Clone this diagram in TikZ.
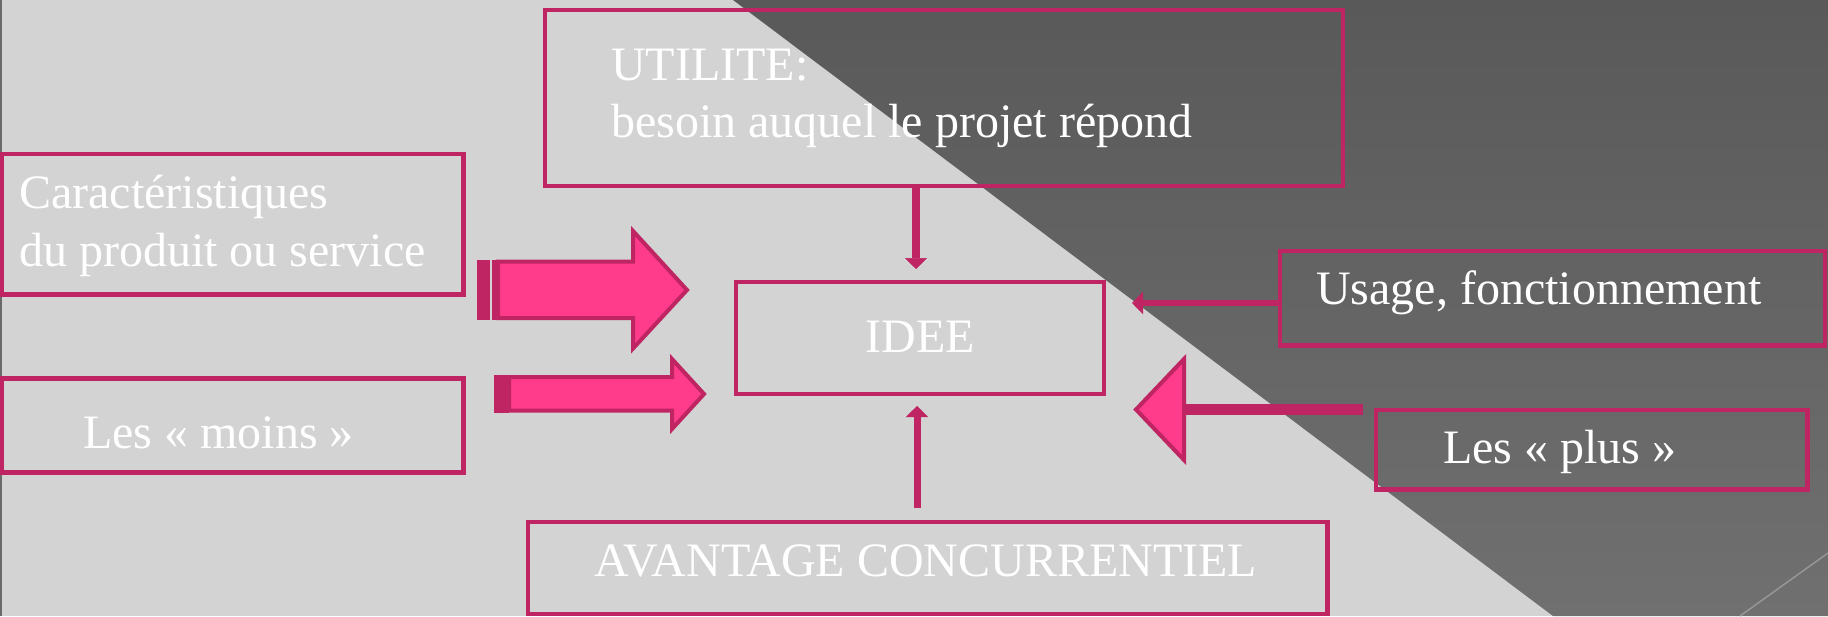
\documentclass[tikz,border=0pt]{standalone}
\usepackage{fontspec}
\setmainfont{Liberation Serif}
\usetikzlibrary{arrows.meta}
\definecolor{paper}{RGB}{211,211,211}
\definecolor{slateTop}{RGB}{89,89,89}
\definecolor{slateBot}{RGB}{112,112,112}
\definecolor{edgegray}{RGB}{105,105,105}
\definecolor{cornerline}{RGB}{150,150,150}
\definecolor{rose}{RGB}{191,37,99}
\definecolor{roseFill}{RGB}{255,60,139}

\begin{document}
\begin{tikzpicture}[x=1pt,y=-1pt,
  frame/.style={draw=rose, line width=4.5pt, rectangle, inner sep=0pt, outer sep=0pt},
  lbl/.style={text=white, inner sep=0pt, font=\fontsize{48}{58}\selectfont},
  link/.style={draw=rose, -{Triangle[width=22pt,length=11pt,line width=0.5pt]}},
  block/.style={fill=roseFill, draw=rose, line width=4pt, line join=miter},
  stripe/.style={fill=rose}]

% canvas and the dark diagonal panel
\useasboundingbox (0,0) rectangle (1828,616);
\fill[paper] (0,0) rectangle (1828,616);
\shade[top color=slateTop, bottom color=slateBot]
  (733,0) -- (1828,0) -- (1828,616) -- (1553,616) -- cycle;
\draw[edgegray, line width=2pt] (1,0) -- (1,616);
\draw[cornerline, line width=1.5pt] (1740,616) -- (1828,553);

% boxes
\node[frame, minimum width=798pt, minimum height=176pt] (utilite) at (944,98) {};
\node[frame, minimum width=462pt, minimum height=140.5pt] (caract) at (232.5,224.25) {};
\node[frame, minimum width=462pt, minimum height=94pt] (moins) at (232.5,425.3) {};
\node[frame, minimum width=368pt, minimum height=112pt] (idee) at (920,338) {};
\node[frame, minimum width=799.5pt, minimum height=92pt] (avantage) at (927.75,568) {};
\node[frame, minimum width=545pt, minimum height=94.5pt] (usage) at (1552.5,298.25) {};
\node[frame, minimum width=431.5pt, minimum height=79.5pt] (plus) at (1591.75,449.75) {};

% labels
\node[lbl, anchor=base west] (utiliteHead) at (611,80) {UTILITE:};
\node[lbl, anchor=base west] (utiliteBody) at (611,137) {besoin auquel le projet répond};
\node[lbl, anchor=base west] (caractHead) at (19,208) {Caractéristiques};
\node[lbl, anchor=base west] (caractBody) at (19,266) {du produit ou service};
\node[lbl, anchor=base west] (moinsText) at (83,448) {Les «~moins~»};
\node[lbl, anchor=base] (ideeText) at (920,352) {IDEE};
\node[lbl, anchor=base] (avantageText) at (926,576) {AVANTAGE CONCURRENTIEL};
\node[lbl, anchor=base west] (usageText) at (1316,304) {Usage, fonctionnement};
\node[lbl, anchor=base west] (plusText) at (1443,463) {Les «~plus~»};

% thin connectors
\coordinate (colTop) at (916,0);
\coordinate (colBot) at (917,0);
\coordinate (rowUse) at (0,303);
\coordinate (rowPlus) at (0,409.5);
\draw[link, line width=8pt, shorten >=13pt] (utilite.south -| colTop) -- (idee.north -| colTop);
\draw[link, line width=7pt, shorten <=14pt, shorten >=12pt] (avantage.north -| colBot) -- (idee.south -| colBot);
\draw[link, line width=6pt, shorten >=28pt] (usage.west |- rowUse) -- (idee.east |- rowUse);

% "plus" arrow: thick shaft and triangular head
\draw[rose, line width=11pt, shorten <=13pt, shorten >=80pt] (plus.west |- rowPlus) -- (idee.east |- rowPlus);
\filldraw[block] (1136,409.5) -- (1184,359) -- (1184,460) -- cycle;

% striped block arrows on the left
\fill[stripe] (477,259.5) rectangle (489.5,320);
\fill[stripe] (491.5,259.5) rectangle (497,320);
\filldraw[block] (498,261.5) -- (633,261.5) -- (633,231) -- (687,290) -- (633,348.5)
  -- (633,318) -- (498,318) -- cycle;
\fill[stripe] (493.5,375) rectangle (508.5,412.7);
\filldraw[block] (509,377) -- (672,377) -- (672,359) -- (704,394) -- (672,429)
  -- (672,410.7) -- (509,410.7) -- cycle;
\end{tikzpicture}
\end{document}
